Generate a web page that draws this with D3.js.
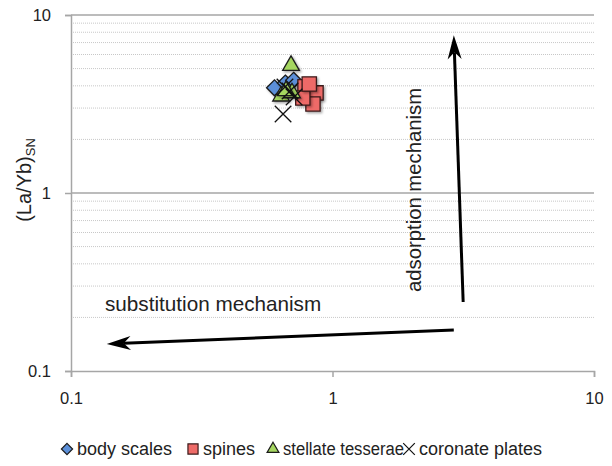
<!DOCTYPE html>
<html>
<head>
<meta charset="utf-8">
<script src="https://cdn.jsdelivr.net/npm/d3@7"></script>
<style>
  body { margin: 0; background: #fff; }
  svg { font-family: "Liberation Sans", Arial, Helvetica, sans-serif; }
</style>
</head>
<body>
<svg id="chart"></svg>
<script>
let width = 612,
  height = 466;

// Data: [La/Yb ratio x, (La/Yb)SN y]
const bodyScales = [[0.60, 3.9], [0.66, 4.15], [0.71, 4.3]];
const spines = [[0.785, 3.95], [0.865, 3.65], [0.842, 3.16], [0.77, 3.42], [0.815, 4.1]];
const stellateTesserae = [[0.694, 5.2], [0.636, 3.5], [0.70, 3.65], [0.664, 3.75]];
const coronatePlates = [[0.647, 2.78], [0.688, 3.74], [0.713, 3.46], [0.658, 3.94]];

const seriesNames = ["body scales", "spines", "stellate tesserae", "coronate plates"];
const tickValues = [0.1, 1, 10];
const tickLabels = ["0.1", "1", "10"];
const minorValues = [0.2, 0.3, 0.4, 0.5, 0.6, 0.7, 0.8, 0.9, 2, 3, 4, 5, 6, 7, 8, 9];

// arrows: [start, end] in data coordinates
const adsorptionArrow = [[3.16, 0.244], [2.91, 7.7]];
const substitutionArrow = [[2.91, 0.17], [0.137, 0.142]];

let svg = d3.select("#chart").attr("width", width).attr("height", height);

let x = d3.scaleLog().domain([0.1, 10]).range([71, 594]);
let y = d3.scaleLog().domain([0.1, 10]).range([371, 15]);

// shadow for markers
let defs = svg.append("defs");
defs.append("filter")
  .attr("id", "shadow")
  .attr("x", "-50%").attr("y", "-50%")
  .attr("width", "200%").attr("height", "200%")
  .append("feDropShadow")
  .attr("dx", 1.5).attr("dy", 1.5)
  .attr("stdDeviation", 1)
  .attr("flood-color", "#000")
  .attr("flood-opacity", 0.35);

// Gridlines
svg.append("g")
  .selectAll("line")
  .data(minorValues)
  .enter()
  .append("line")
  .attr("x1", x(0.1)).attr("x2", x(10))
  .attr("y1", (d) => y(d)).attr("y2", (d) => y(d))
  .attr("stroke", "#c8c8c8")
  .attr("stroke-width", 1)
  .attr("stroke-dasharray", "1,1");

svg.append("g")
  .selectAll("line")
  .data([1, 10])
  .enter()
  .append("line")
  .attr("x1", x(0.1)).attr("x2", x(10))
  .attr("y1", (d) => y(d)).attr("y2", (d) => y(d))
  .attr("stroke", "#a6a6a6")
  .attr("stroke-width", 1.5);

// Axes
let xAxis = svg.append("g")
  .attr("transform", "translate(0," + y(0.1) + ")")
  .call(d3.axisBottom(x).tickValues(tickValues).tickFormat((d, i) => tickLabels[i]).tickSizeOuter(0).tickSize(6).tickPadding(12));

let yAxis = svg.append("g")
  .attr("transform", "translate(" + x(0.1) + ",0)")
  .call(d3.axisLeft(y).tickValues(tickValues).tickFormat((d, i) => tickLabels[i]).tickSizeOuter(0).tickSize(6).tickPadding(14));

[xAxis, yAxis].forEach((a) => {
  a.select(".domain").attr("stroke", "#a6a6a6").attr("stroke-width", 1.5);
  a.selectAll(".tick line").attr("stroke", "#a6a6a6").attr("stroke-width", 1.5);
  a.selectAll(".tick text").attr("font-size", 16.5).attr("fill", "#222")
    .style("font-family", "'Liberation Sans', Arial, sans-serif");
});
xAxis.selectAll(".tick text").attr("dy", "0.9em");

// Y axis title
let ytitle = svg.append("text")
  .attr("transform", "translate(31,180) rotate(-90)")
  .attr("text-anchor", "middle")
  .attr("font-size", 20)
  .attr("fill", "#222");
ytitle.append("tspan").text("(La/Yb)");
ytitle.append("tspan").attr("font-size", 13).attr("dy", 4).text("SN");

// Arrows
function drawArrow(pts) {
  let p0 = [x(pts[0][0]), y(pts[0][1])],
    p1 = [x(pts[1][0]), y(pts[1][1])];
  let dx = p1[0] - p0[0],
    dy = p1[1] - p0[1],
    len = Math.sqrt(dx * dx + dy * dy);
  let ux = dx / len, uy = dy / len, px = -uy, py = ux;
  let L = 24, W = 7, notch = 17;
  let back = [p1[0] - ux * L, p1[1] - uy * L];
  let nt = [p1[0] - ux * notch, p1[1] - uy * notch];
  svg.append("line")
    .attr("x1", p0[0]).attr("y1", p0[1])
    .attr("x2", nt[0]).attr("y2", nt[1])
    .attr("stroke", "#000")
    .attr("stroke-width", 3);
  svg.append("path")
    .attr("d", "M" + p1[0] + "," + p1[1] +
      "L" + (back[0] + px * W) + "," + (back[1] + py * W) +
      "L" + nt[0] + "," + nt[1] +
      "L" + (back[0] - px * W) + "," + (back[1] - py * W) + "Z")
    .attr("fill", "#000");
}
drawArrow(adsorptionArrow);
drawArrow(substitutionArrow);

svg.append("text")
  .attr("x", 105).attr("y", 311)
  .attr("font-size", 20.7)
  .attr("fill", "#222")
  .text("substitution mechanism");

svg.append("text")
  .attr("transform", "translate(421,190) rotate(-90)")
  .attr("text-anchor", "middle")
  .attr("font-size", 20.3)
  .attr("fill", "#222")
  .text("adsorption mechanism");

// Marker shapes
const symbols = [
  { type: d3.symbolDiamond2, size: 160, fill: "#5b8fd8", stroke: "#1a1a1a" },
  { type: d3.symbolSquare2, size: 260, fill: "#ee6b68", stroke: "#3a1a1a" },
  { type: d3.symbolTriangle2, size: 200, fill: "#a5d660", stroke: "#1a1a1a" },
  { type: d3.symbolX, size: 180, fill: "none", stroke: "#111" },
];
const allSeries = [bodyScales, spines, stellateTesserae, coronatePlates];

allSeries.forEach((data, i) => {
  let s = symbols[i];
  svg.append("g")
    .selectAll("path")
    .data(data)
    .enter()
    .append("path")
    .attr("transform", (d) => "translate(" + x(d[0]) + "," + y(d[1]) + ")")
    .attr("d", d3.symbol().type(s.type).size(s.size))
    .attr("fill", s.fill)
    .attr("stroke", s.stroke)
    .attr("stroke-width", 1.3)
    .attr("filter", i < 3 ? "url(#shadow)" : null);
});

// Legend
const legendX = [67, 193, 273, 409];
let legend = svg.append("g");
seriesNames.forEach((name, i) => {
  let s = symbols[i];
  legend.append("path")
    .attr("transform", "translate(" + legendX[i] + ",449)")
    .attr("d", d3.symbol().type(s.type).size(s.size * 0.5))
    .attr("fill", s.fill)
    .attr("stroke", s.stroke)
    .attr("stroke-width", 1.2);
  let t = legend.append("text")
    .attr("x", legendX[i] + 10)
    .attr("y", 455)
    .attr("font-size", 18)
    .attr("fill", "#222")
    .text(name);
  if (i === 2) t.attr("textLength", 121).attr("lengthAdjust", "spacingAndGlyphs");
});
</script>
</body>
</html>
